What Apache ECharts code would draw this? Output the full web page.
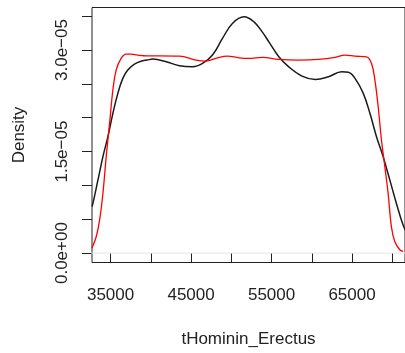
<!DOCTYPE html>
<html>
<head>
<meta charset="utf-8">
<script src="https://cdn.jsdelivr.net/npm/echarts@6/dist/echarts.min.js"></script>
<style>
html,body{margin:0;padding:0;background:#fff;}
#chart{width:405px;height:353px;}
</style>
</head>
<body>
<div id="chart"></div>
<script>
// Black density curve (x, density)
const blackX = [32690, 32813, 33431, 34048, 34665, 35283, 35900, 36517, 37134, 37962, 38987, 39517, 40258, 41912, 43554, 45196, 46431, 47665, 48900, 50134, 51579, 52814, 53839, 54666, 55900, 57135, 58777, 60431, 62073, 63716, 64543, 65370, 66395, 67222, 68037, 68864, 69691, 70506, 71333, 72000];
const blackY = [0.687e-5, 0.737e-5, 1.081e-5, 1.425e-5, 1.720e-5, 2.065e-5, 2.360e-5, 2.581e-5, 2.704e-5, 2.792e-5, 2.841e-5, 2.851e-5, 2.866e-5, 2.826e-5, 2.767e-5, 2.752e-5, 2.802e-5, 2.925e-5, 3.171e-5, 3.392e-5, 3.490e-5, 3.416e-5, 3.268e-5, 3.121e-5, 2.900e-5, 2.752e-5, 2.615e-5, 2.566e-5, 2.605e-5, 2.678e-5, 2.670e-5, 2.581e-5, 2.360e-5, 2.065e-5, 1.720e-5, 1.425e-5, 1.081e-5, 0.737e-5, 0.417e-5, 0.25e-5];
// Red density curve (x, density)
const redX = [32690, 33221, 33641, 34048, 34455, 34875, 35283, 35690, 36307, 36925, 37542, 38369, 39517, 41085, 43554, 45616, 46851, 48085, 49518, 50962, 52197, 53839, 55900, 58370, 60839, 62901, 64135, 65370, 66802, 67420, 67839, 68247, 68654, 69074, 69481, 69889, 70309, 70926, 71333];
const redY = [0.074e-5, 0.245e-5, 0.491e-5, 0.885e-5, 1.425e-5, 1.917e-5, 2.409e-5, 2.704e-5, 2.876e-5, 2.940e-5, 2.940e-5, 2.925e-5, 2.914e-5, 2.914e-5, 2.910e-5, 2.851e-5, 2.836e-5, 2.876e-5, 2.910e-5, 2.885e-5, 2.876e-5, 2.891e-5, 2.861e-5, 2.851e-5, 2.861e-5, 2.891e-5, 2.925e-5, 2.910e-5, 2.900e-5, 2.802e-5, 2.556e-5, 2.162e-5, 1.671e-5, 1.277e-5, 0.885e-5, 0.392e-5, 0.171e-5, 0.049e-5, 0.024e-5];

const xTicks = [35000, 40000, 45000, 50000, 55000, 60000, 65000, 70000];
const xTickLabels = [35000, 45000, 55000, 65000];
const yTicks = [0, 0.5e-5, 1.0e-5, 1.5e-5, 2.0e-5, 2.5e-5, 3.0e-5, 3.5e-5];
const yTickLabels = [0, 1.5e-5, 3.0e-5];

const xTitle = 'tHominin_Erectus';
const yTitle = 'Density';

function sci(v) {
  const parts = Number(v).toExponential(1).split('e');
  const sign = parts[1][0] === '-' ? '\u2212' : '+';
  const digits = parts[1].replace(/^[+-]/, '').padStart(2, '0');
  return parts[0] + 'e' + sign + digits;
}

const FONT = '"Liberation Sans", Arial, Helvetica, sans-serif';
const chart = echarts.init(document.getElementById('chart'), null, {renderer: 'canvas'});

chart.setOption({
  animation: false,
  backgroundColor: '#fff',
  grid: {
    left: 92, top: 7.5, right: -2, bottom: 90.5,
    show: true, borderColor: '#222', borderWidth: 1, backgroundColor: 'transparent'
  },
  xAxis: {
    type: 'value',
    min: 32690, max: 71580,
    name: xTitle, nameLocation: 'middle', nameGap: 68,
    nameTextStyle: {fontFamily: FONT, fontSize: 17, color: '#222'},
    axisLine: {show: false},
    splitLine: {show: false},
    axisTick: {show: true, inside: false, length: 10, customValues: xTicks, lineStyle: {color: '#222', width: 1}},
    axisLabel: {
      customValues: xTickLabels, margin: 24,
      fontFamily: FONT, fontSize: 17, color: '#222',
      formatter: v => String(v)
    }
  },
  yAxis: {
    type: 'value',
    min: -1.39e-6, max: 3.628e-5,
    name: yTitle, nameLocation: 'middle', nameGap: 64, nameRotate: 90,
    nameTextStyle: {fontFamily: FONT, fontSize: 17, color: '#222'},
    axisLine: {show: false},
    splitLine: {show: false},
    axisTick: {show: true, inside: false, length: 10, customValues: yTicks, lineStyle: {color: '#222', width: 1}},
    axisLabel: {
      customValues: yTickLabels, rotate: 90, margin: 21,
      fontFamily: FONT, fontSize: 17, color: '#222',
      formatter: v => sci(v)
    }
  },
  series: [
    {
      type: 'line', name: 'zero', data: [[32000, 0], [73000, 0]],
      symbol: 'none', silent: true,
      lineStyle: {color: '#e4e4e4', width: 1}, z: 1
    },
    {
      type: 'line', name: 'black', smooth: 0.4, symbol: 'none', clip: true,
      data: blackX.map((x, i) => [x, blackY[i]]),
      lineStyle: {color: '#1a1a1a', width: 1.5}, z: 3
    },
    {
      type: 'line', name: 'red', smooth: 0.4, symbol: 'none', clip: true,
      data: redX.map((x, i) => [x, redY[i]]),
      lineStyle: {color: '#ff0000', width: 1.3}, z: 4
    }
  ]
});
</script>
</body>
</html>
